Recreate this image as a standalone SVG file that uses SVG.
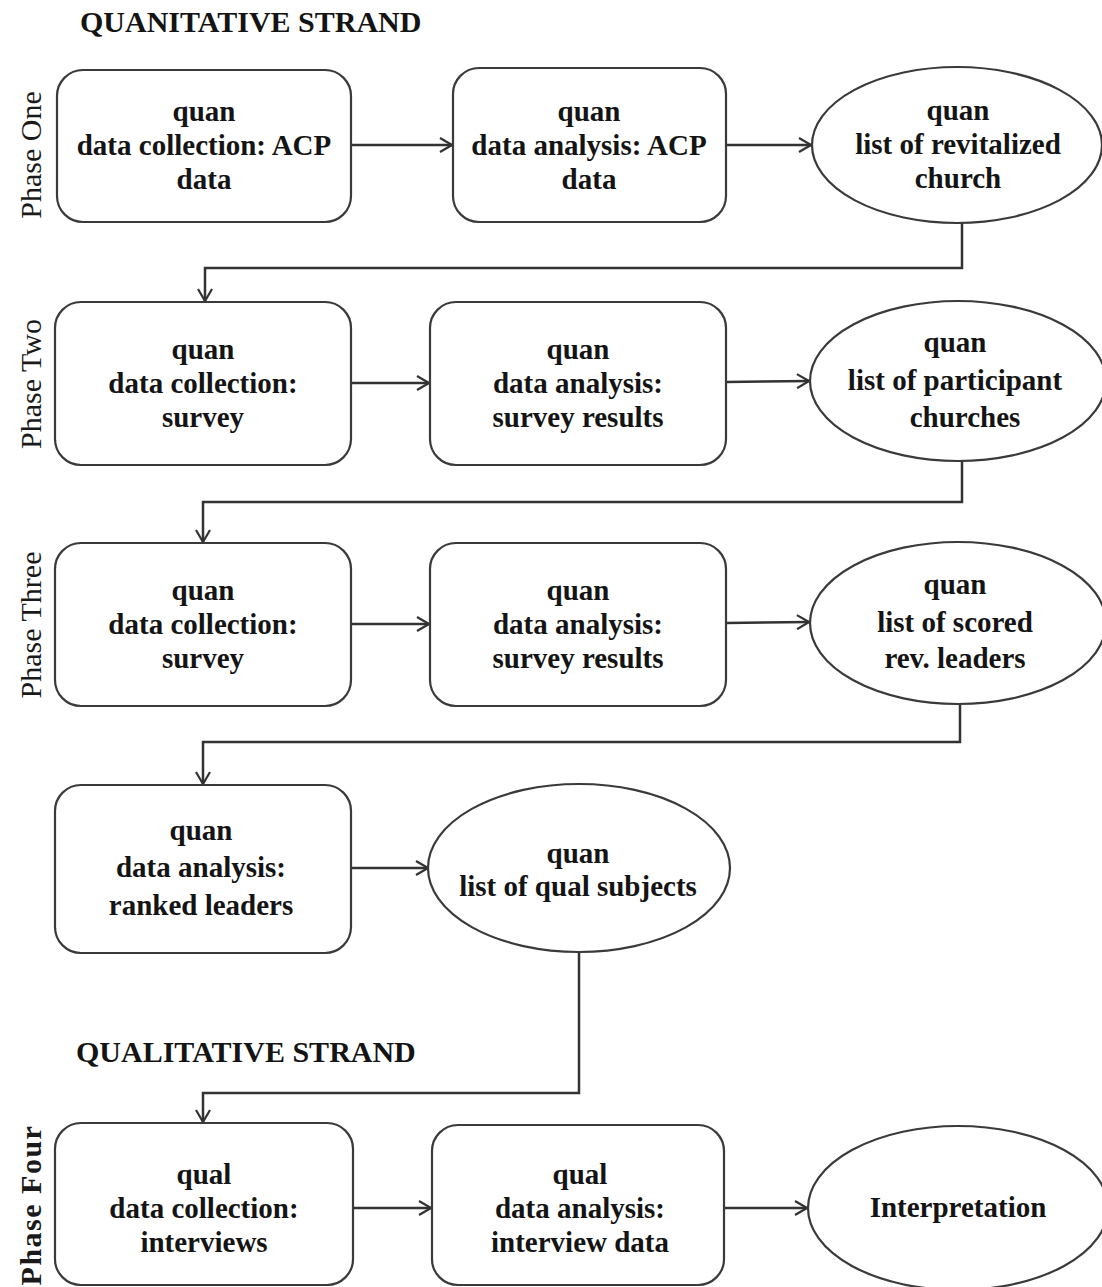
<svg xmlns="http://www.w3.org/2000/svg" width="1102" height="1287" viewBox="0 0 1102 1287">
  <style>
    .box { fill: #ffffff; stroke: #3a3a3a; stroke-width: 2.2; }
    .lbl { font-family: "Liberation Serif", "Times New Roman", serif; font-weight: bold; font-size: 29px; fill: #141414; text-anchor: middle; }
    .head { font-family: "Liberation Serif", "Times New Roman", serif; font-weight: bold; font-size: 30px; fill: #141414; }
    .phase { font-family: "Liberation Serif", "Times New Roman", serif; font-size: 30px; fill: #1a1a1a; text-anchor: middle; }
    .edge { fill: none; stroke: #333333; stroke-width: 2.5; }
  </style>
  <defs>
    <marker id="arrow" viewBox="0 0 14 16" refX="13" refY="8" markerWidth="14" markerHeight="16" markerUnits="userSpaceOnUse" orient="auto">
      <path d="M1,1 L13,8 L1,15" fill="none" stroke="#333333" stroke-width="2.2"/>
    </marker>
  </defs>
  <rect width="1102" height="1287" fill="#ffffff"/>

  <!-- strand headings -->
  <text class="head" x="80" y="32">QUANITATIVE STRAND</text>
  <text class="head" x="76" y="1062">QUALITATIVE STRAND</text>

  <!-- phase labels -->
  <text class="phase" transform="translate(41,155) rotate(-90)">Phase One</text>
  <text class="phase" transform="translate(41,384) rotate(-90)">Phase Two</text>
  <text class="phase" transform="translate(41,625) rotate(-90)">Phase Three</text>
  <text class="phase" font-weight="bold" letter-spacing="1.5" transform="translate(41,1205) rotate(-90)">Phase Four</text>

  <!-- connectors -->
  <g id="connectors">
    <line class="edge" x1="351" y1="145" x2="452" y2="145" marker-end="url(#arrow)"/>
    <line class="edge" x1="726" y1="145" x2="811" y2="145" marker-end="url(#arrow)"/>
    <path class="edge" d="M962,222 V268 H205 V301" marker-end="url(#arrow)"/>

    <line class="edge" x1="351" y1="383" x2="429" y2="383" marker-end="url(#arrow)"/>
    <line class="edge" x1="726" y1="382" x2="809" y2="381" marker-end="url(#arrow)"/>
    <path class="edge" d="M962,460 V502 H203 V542" marker-end="url(#arrow)"/>

    <line class="edge" x1="351" y1="624" x2="429" y2="624" marker-end="url(#arrow)"/>
    <line class="edge" x1="726" y1="623" x2="809" y2="622" marker-end="url(#arrow)"/>
    <path class="edge" d="M960,705 V742 H203 V784" marker-end="url(#arrow)"/>

    <line class="edge" x1="351" y1="868" x2="428" y2="868" marker-end="url(#arrow)"/>
    <path class="edge" d="M579,953 V1093 H203 V1122" marker-end="url(#arrow)"/>

    <line class="edge" x1="353" y1="1208" x2="431" y2="1208" marker-end="url(#arrow)"/>
    <line class="edge" x1="724" y1="1208" x2="807" y2="1208" marker-end="url(#arrow)"/>
  </g>

  <!-- phase one -->
  <g id="p1-collect">
    <rect class="box" x="57" y="70" width="294" height="152" rx="26"/>
    <text class="lbl" x="204" y="121">quan</text>
    <text class="lbl" x="204" y="155">data collection: ACP</text>
    <text class="lbl" x="204" y="189">data</text>
  </g>
  <g id="p1-analysis">
    <rect class="box" x="453" y="68" width="273" height="154" rx="26"/>
    <text class="lbl" x="589" y="121">quan</text>
    <text class="lbl" x="589" y="155">data analysis: ACP</text>
    <text class="lbl" x="589" y="189">data</text>
  </g>
  <g id="p1-result">
    <ellipse class="box" cx="957" cy="145" rx="145" ry="78"/>
    <text class="lbl" x="958" y="120">quan</text>
    <text class="lbl" x="958" y="154">list of revitalized</text>
    <text class="lbl" x="958" y="188">church</text>
  </g>

  <!-- phase two -->
  <g id="p2-collect">
    <rect class="box" x="55" y="302" width="296" height="163" rx="26"/>
    <text class="lbl" x="203" y="359">quan</text>
    <text class="lbl" x="203" y="393">data collection:</text>
    <text class="lbl" x="203" y="427">survey</text>
  </g>
  <g id="p2-analysis">
    <rect class="box" x="430" y="302" width="296" height="163" rx="26"/>
    <text class="lbl" x="578" y="359">quan</text>
    <text class="lbl" x="578" y="393">data analysis:</text>
    <text class="lbl" x="578" y="427">survey results</text>
  </g>
  <g id="p2-result">
    <ellipse class="box" cx="958" cy="381" rx="148" ry="80"/>
    <text class="lbl" x="955" y="352">quan</text>
    <text class="lbl" x="955" y="390">list of participant</text>
    <text class="lbl" x="965" y="427">churches</text>
  </g>

  <!-- phase three -->
  <g id="p3-collect">
    <rect class="box" x="55" y="543" width="296" height="163" rx="26"/>
    <text class="lbl" x="203" y="600">quan</text>
    <text class="lbl" x="203" y="634">data collection:</text>
    <text class="lbl" x="203" y="668">survey</text>
  </g>
  <g id="p3-analysis">
    <rect class="box" x="430" y="543" width="296" height="163" rx="26"/>
    <text class="lbl" x="578" y="600">quan</text>
    <text class="lbl" x="578" y="634">data analysis:</text>
    <text class="lbl" x="578" y="668">survey results</text>
  </g>
  <g id="p3-result">
    <ellipse class="box" cx="958" cy="623" rx="148" ry="81"/>
    <text class="lbl" x="955" y="594">quan</text>
    <text class="lbl" x="955" y="632">list of scored</text>
    <text class="lbl" x="955" y="668">rev. leaders</text>
  </g>

  <!-- ranking step -->
  <g id="p3-rank">
    <rect class="box" x="55" y="785" width="296" height="168" rx="26"/>
    <text class="lbl" x="201" y="840">quan</text>
    <text class="lbl" x="201" y="877">data analysis:</text>
    <text class="lbl" x="201" y="915">ranked leaders</text>
  </g>
  <g id="p3-subjects">
    <ellipse class="box" cx="579" cy="868" rx="151" ry="84"/>
    <text class="lbl" x="578" y="863">quan</text>
    <text class="lbl" x="578" y="896">list of qual subjects</text>
  </g>

  <!-- phase four -->
  <g id="p4-collect">
    <rect class="box" x="55" y="1123" width="298" height="162" rx="26"/>
    <text class="lbl" x="204" y="1184">qual</text>
    <text class="lbl" x="204" y="1218">data collection:</text>
    <text class="lbl" x="204" y="1252">interviews</text>
  </g>
  <g id="p4-analysis">
    <rect class="box" x="432" y="1125" width="292" height="160" rx="26"/>
    <text class="lbl" x="580" y="1184">qual</text>
    <text class="lbl" x="580" y="1218">data analysis:</text>
    <text class="lbl" x="580" y="1252">interview data</text>
  </g>
  <g id="p4-result">
    <ellipse class="box" cx="958" cy="1208" rx="150" ry="82"/>
    <text class="lbl" x="958" y="1217">Interpretation</text>
  </g>
</svg>
